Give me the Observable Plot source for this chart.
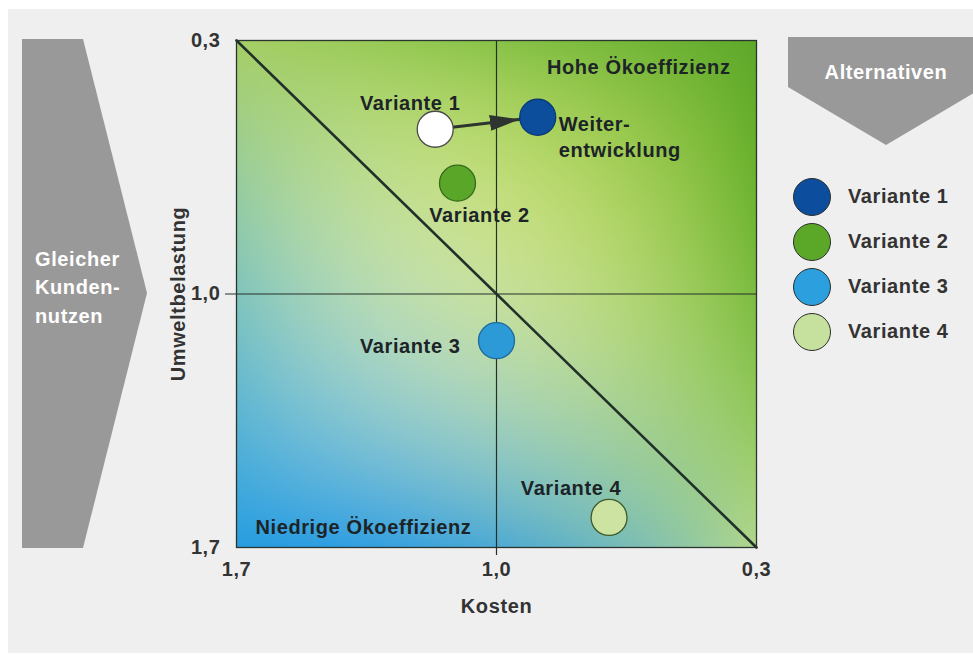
<!DOCTYPE html>
<html>
<head>
<meta charset="utf-8">
<script src="https://cdn.jsdelivr.net/npm/d3@7"></script>
<script src="https://cdn.jsdelivr.net/npm/@observablehq/plot@0.6"></script>
<style>
  html, body { margin: 0; padding: 0; background: #ffffff; }
  #wrap { position: relative; width: 973px; height: 655px; overflow: hidden;
          font-family: "Liberation Sans", Arial, Helvetica, sans-serif; font-weight: bold; }
  #bg { position: absolute; left: 8px; top: 9px; right: 0; bottom: 2px; background: #efefef; }
  #deco { position: absolute; left: 0; top: 0; letter-spacing: 0.6px; }
  #chart { position: absolute; left: 0; top: 0; }
  #legend { position: absolute; left: 793px; top: 174px; }
  .row { display: flex; align-items: center; height: 45px; }
  .sw { width: 38px; height: 38px; border-radius: 50%; border: 1.4px solid #2a2f2a; box-sizing: border-box; margin-right: 17px; }
  .lab { font-size: 20px; color: #333333; letter-spacing: 0.6px; }
</style>
</head>
<body>
<div id="wrap">
  <div id="bg"></div>
  <svg id="deco" width="973" height="655" font-family="Liberation Sans, Arial, sans-serif" font-weight="bold">
    <polygon points="22,39 83,39 147,293 83,548 22,548" fill="#999999"/>
    <text x="35" y="259" dy="0.35em" fill="#ffffff" font-size="20">Gleicher</text>
    <text x="35" y="287" dy="0.35em" fill="#ffffff" font-size="20">Kunden-</text>
    <text x="35" y="316" dy="0.35em" fill="#ffffff" font-size="20">nutzen</text>
    <polygon points="788,37 973,37 973,93.5 886,145 788,87" fill="#999999"/>
    <text x="886" y="72" dy="0.35em" text-anchor="middle" fill="#ffffff" font-size="20">Alternativen</text>
  </svg>
  <div id="chart"></div>
  <div id="legend"></div>
</div>
<script>
// ---------- data ----------
const names   = ["Variante 1", "Weiterentwicklung", "Variante 2", "Variante 3", "Variante 4"];
const labels  = ["Variante 1", "Weiter-\nentwicklung", "Variante 2", "Variante 3", "Variante 4"];
const kosten  = [1.165, 0.889, 1.105, 1.0, 0.697];
const umwelt  = [0.545, 0.512, 0.694, 1.129, 1.617];
const fills   = ["#ffffff", "#0c4d9c", "#5aa628", "#2d9ad8", "#cde3a2"];
const strokes = ["#4a4a4a", "#0a3a78", "#356a1c", "#1f6a9c", "#3e5a2e"];
const development = [{from: "Variante 1", to: "Weiterentwicklung"}];
const tickValues = [1.7, 1.0, 0.3];
const reference = 1.0;
const parity = [[1.7, 0.3], [0.3, 1.7]];
const legendLabels = ["Variante 1", "Variante 2", "Variante 3", "Variante 4"];
const legendColors = ["#0d4d9e", "#5ba829", "#2c9fde", "#c5e19d"];
const zoneHigh = ["Hohe Ökoeffizienz"];
const zoneLow = ["Niedrige Ökoeffizienz"];

// background gradient colours on a 3x3 grid (rows: top, middle, bottom; cols: left, mid, right)
const gradientGrid = [
  ["#a6ce66", "#88c248", "#5ea82a"],
  ["#80c4bc", "#c4df9c", "#7cbc40"],
  ["#279ddf", "#4eaad2", "#b2d78c"]
];

// ---------- helpers ----------
const fmt = d => d.toFixed(1).replace(".", ",");
const points = names.map((name, i) => ({name, label: labels[i], kosten: kosten[i], umwelt: umwelt[i], fill: fills[i], stroke: strokes[i]}));
const byName = new Map(points.map(p => [p.name, p]));
const arrows = development.map(d => ({x1: byName.get(d.from).kosten, y1: byName.get(d.from).umwelt,
                                      x2: byName.get(d.to).kosten,   y2: byName.get(d.to).umwelt}));
const gridRGB = gradientGrid.map(r => r.map(c => d3.rgb(c)));
const L = [t => (t - 1) * (t - 2) / 2, t => -t * (t - 2), t => t * (t - 1) / 2];
const clamp = v => Math.max(0, Math.min(255, Math.round(v)));
function grad(x, y) {
  const u = Math.max(0, Math.min(2, (1.7 - x) / 0.7));
  const v = Math.max(0, Math.min(2, (y - 0.3) / 0.7));
  let r = 0, g = 0, b = 0;
  for (let j = 0; j < 3; j++) {
    const wy = L[j](v);
    for (let i = 0; i < 3; i++) {
      const w = wy * L[i](u), c = gridRGB[j][i];
      r += w * c.r; g += w * c.g; b += w * c.b;
    }
  }
  return `rgb(${clamp(r)},${clamp(g)},${clamp(b)})`;
}

const labelLayout = {
  "Variante 1":        {dx: -25, dy: -28, textAnchor: "middle"},
  "Weiterentwicklung": {dx: 21,  dy: 18,  textAnchor: "start"},
  "Variante 2":        {dx: 22,  dy: 30,  textAnchor: "middle"},
  "Variante 3":        {dx: -36, dy: 4,   textAnchor: "end"},
  "Variante 4":        {dx: -38, dy: -31, textAnchor: "middle"}
};
const textColor = "#1c2428";

const labelMarks = points.map(p => Plot.text([p], {
  x: "kosten", y: "umwelt", text: "label", fill: textColor, lineHeight: 1.3,
  ...labelLayout[p.name]
}));

const plot = Plot.plot({
  width: 973, height: 655,
  marginLeft: 236, marginRight: 217, marginTop: 40, marginBottom: 108,
  style: {background: "transparent", fontFamily: "'Liberation Sans', Arial, Helvetica, sans-serif",
          fontSize: "20px", fontWeight: "bold", color: "#333333", overflow: "visible", letterSpacing: "0.6px"},
  x: {domain: [1.7, 0.3], ticks: tickValues, tickFormat: fmt, tickSize: 0, tickPadding: 14, label: null},
  y: {domain: [0.3, 1.7], reverse: true, ticks: tickValues, tickFormat: fmt, tickSize: 0, tickPadding: 16, label: null},
  color: {type: "identity"},
  marks: [
    Plot.raster({x1: 1.7, x2: 0.3, y1: 0.3, y2: 1.7, fill: (x, y) => grad(x, y), pixelSize: 1}),
    Plot.ruleX([reference], {stroke: "#26302a", strokeWidth: 1.2, insetBottom: -8}),
    Plot.ruleY([reference], {stroke: "#26302a", strokeWidth: 1.2, insetLeft: -11}),
    Plot.line(parity, {x: d => d[0], y: d => d[1], stroke: "#22302a", strokeWidth: 2.6}),
    Plot.frame({stroke: "#2a3530", strokeWidth: 1.3}),
    Plot.link(arrows, {x1: "x1", y1: "y1", x2: "x2", y2: "y2", stroke: "#2e3430", strokeWidth: 3}),
    Plot.dot(points, {x: "kosten", y: "umwelt", r: 18, fill: "fill", stroke: "stroke", strokeWidth: 1.3}),
    ...labelMarks,
    Plot.text(zoneHigh, {frameAnchor: "top-right", textAnchor: "end", lineAnchor: "middle", dx: -26, dy: 27, fill: textColor}),
    Plot.text(zoneLow, {frameAnchor: "bottom-left", textAnchor: "start", lineAnchor: "middle", dx: 19, dy: -20, fill: textColor}),
    Plot.text(["Kosten"], {frameAnchor: "bottom", lineAnchor: "middle", dy: 59, fill: "#333333"}),
    Plot.text(["Umweltbelastung"], {frameAnchor: "left", rotate: -90, textAnchor: "middle", lineAnchor: "middle", dx: -58, fill: "#333333"})
  ]
});

// filled arrow head for the development arrow
const ns = "http://www.w3.org/2000/svg";
const defs = document.createElementNS(ns, "defs");
const marker = document.createElementNS(ns, "marker");
marker.setAttribute("id", "devhead");
marker.setAttribute("markerUnits", "userSpaceOnUse");
marker.setAttribute("viewBox", "0 -10 52 20");
marker.setAttribute("markerWidth", "52");
marker.setAttribute("markerHeight", "20");
marker.setAttribute("refX", "48");
marker.setAttribute("refY", "0");
marker.setAttribute("orient", "auto");
const head = document.createElementNS(ns, "path");
head.setAttribute("d", "M0,-8L30,0L0,8Z");
head.setAttribute("fill", "#2e3430");
marker.appendChild(head);
defs.appendChild(marker);
plot.insertBefore(defs, plot.firstChild);
plot.querySelectorAll('g[aria-label="link"] path, g[aria-label="link"] line').forEach(p => p.setAttribute("marker-end", "url(#devhead)"));

document.getElementById("chart").appendChild(plot);

// legend
const legend = d3.select("#legend");
legendLabels.forEach((lab, i) => {
  const row = legend.append("div").attr("class", "row");
  row.append("div").attr("class", "sw").style("background", legendColors[i]);
  row.append("div").attr("class", "lab").text(lab);
});
</script>
</body>
</html>
